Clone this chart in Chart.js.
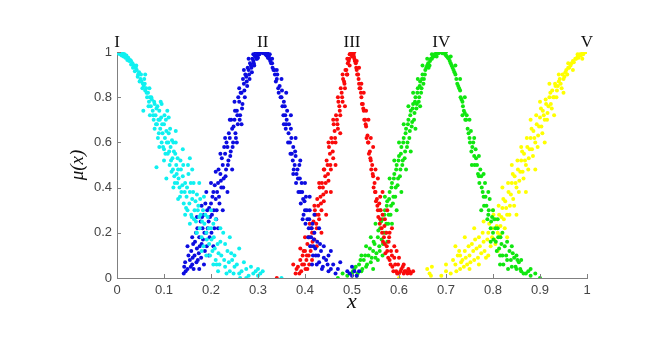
<!DOCTYPE html>
<html>
<head>
<meta charset="utf-8">
<script src="https://cdn.jsdelivr.net/npm/chart.js@4.4.1/dist/chart.umd.min.js"></script>
<style>
  html, body { margin: 0; padding: 0; background: #ffffff; }
  #wrap { width: 650px; height: 360px; }
</style>
</head>
<body>
<div id="wrap"><canvas id="myChart" width="650" height="360"></canvas></div>
<script>
// points, [x, mu]
var set1 = [[0,1],[0.004,1],[0.008,0.998],[0.012,0.995],[0.016,0.99],[0.02,0.985],[0.024,0.975],[0.028,0.965],[0.03,0.96],[0.033,0.95],[0.036,0.94],[0.04,0.93],[0.042,0.92],[0.045,0.9],[0.047,0.91],[0.05,0.88],[0.052,0.87],[0.055,0.86],[0.056,0.74],[0.057,0.85],[0.058,0.88],[0.06,0.83],[0.062,0.84],[0.064,0.8],[0.066,0.82],[0.068,0.78],[0.07,0.8],[0.072,0.76],[0.074,0.79],[0.076,0.74],[0.078,0.7],[0.08,0.77],[0.082,0.72],[0.084,0.75],[0.084,0.49],[0.085,0.68],[0.087,0.62],[0.088,0.7],[0.09,0.74],[0.092,0.66],[0.094,0.71],[0.095,0.6],[0.097,0.64],[0.1,0.68],[0.1,0.57],[0.102,0.62],[0.104,0.7],[0.106,0.6],[0.108,0.55],[0.11,0.64],[0.112,0.5],[0.114,0.58],[0.116,0.47],[0.118,0.53],[0.12,0.6],[0.122,0.45],[0.124,0.55],[0.126,0.5],[0.128,0.42],[0.13,0.48],[0.133,0.4],[0.135,0.52],[0.137,0.38],[0.14,0.45],[0.142,0.33],[0.145,0.42],[0.148,0.36],[0.15,0.3],[0.152,0.46],[0.155,0.38],[0.158,0.28],[0.16,0.35],[0.163,0.42],[0.165,0.3],[0.168,0.25],[0.17,0.37],[0.173,0.32],[0.176,0.22],[0.178,0.28],[0.18,0.18],[0.183,0.3],[0.186,0.24],[0.19,0.2],[0.193,0.27],[0.196,0.15],[0.2,0.22],[0.203,0.12],[0.206,0.18],[0.21,0.08],[0.214,0.15],[0.218,0.06],[0.222,0.1],[0.226,0.2],[0.23,0.05],[0.235,0.12],[0.24,0.03],[0.245,0.08],[0.25,0.05],[0.26,0.02],[0.262,0],[0.275,0.04],[0.29,0.02],[0.295,0.03],[0.3,0.01],[0.305,0.02],[0.35,0],
  [0.002,0.995],[0.006,0.99],[0.01,0.985],[0.014,0.98],[0.018,0.975],[0.022,0.965],[0.026,0.96],[0.03,0.945],[0.034,0.93],[0.038,0.915],[0.041,0.94],[0.044,0.89],[0.048,0.87],[0.051,0.9],[0.054,0.84],[0.059,0.86],[0.063,0.82],[0.067,0.76],[0.069,0.84],[0.073,0.8],[0.077,0.72],[0.079,0.78],[0.083,0.68],[0.086,0.76],[0.089,0.64],[0.091,0.7],[0.093,0.78],[0.096,0.68],[0.098,0.58],[0.101,0.72],[0.103,0.55],[0.105,0.65],[0.107,0.74],[0.109,0.6],[0.111,0.56],[0.113,0.66],[0.115,0.52],[0.117,0.61],[0.119,0.48],[0.121,0.56],[0.123,0.42],[0.125,0.6],[0.127,0.46],[0.129,0.53],[0.131,0.44],[0.134,0.36],[0.136,0.48],[0.139,0.41],[0.141,0.5],[0.144,0.38],[0.147,0.31],[0.149,0.4],[0.151,0.5],[0.154,0.33],[0.157,0.42],[0.159,0.27],[0.162,0.38],[0.164,0.26],[0.167,0.34],[0.169,0.2],[0.172,0.3],[0.175,0.27],[0.177,0.35],[0.181,0.25],[0.184,0.14],[0.188,0.28],[0.191,0.17],[0.195,0.22],[0.198,0.1],[0.201,0.17],[0.205,0.24],[0.208,0.13],[0.212,0.06],[0.216,0.11],[0.22,0.16],[0.228,0.08],[0.233,0.02],[0.238,0.07],[0.243,0.11],[0.248,0.02],[0.255,0.06],[0.265,0.03],[0.28,0.01],
  [0.06,0.9],[0.07,0.72],[0.08,0.66],[0.09,0.58],[0.095,0.77],[0.1,0.52],[0.105,0.44],[0.11,0.71],[0.12,0.4],[0.125,0.65],[0.13,0.35],[0.14,0.57],[0.145,0.28],[0.155,0.53],[0.155,0.24],[0.16,0.48],[0.17,0.2],[0.175,0.42],[0.18,0.12],[0.185,0.36],[0.19,0.1],[0.2,0.3],[0.205,0.06],[0.21,0.26],[0.215,0.03],[0.22,0.22],[0.23,0.15],[0.24,0.18],[0.25,0.1],[0.26,0.13],[0.27,0.07],[0.285,0.05],[0.3,0.04],[0.31,0.03],[0.275,0]];

var set2 = [[0.142,0.02],[0.143,0.05],[0.145,0.07],[0.15,0.04],[0.155,0.08],[0.158,0.12],[0.16,0.06],[0.162,0.15],[0.165,0.1],[0.168,0.2],[0.17,0.13],[0.172,0.08],[0.175,0.18],[0.178,0.25],[0.18,0.15],[0.182,0.22],[0.185,0.28],[0.187,0.12],[0.19,0.2],[0.192,0.3],[0.195,0.25],[0.197,0.18],[0.2,0.33],[0.202,0.28],[0.205,0.38],[0.207,0.22],[0.21,0.35],[0.212,0.3],[0.215,0.42],[0.217,0.36],[0.22,0.46],[0.222,0.4],[0.225,0.5],[0.227,0.44],[0.23,0.55],[0.232,0.48],[0.235,0.58],[0.237,0.52],[0.24,0.62],[0.242,0.56],[0.245,0.66],[0.247,0.6],[0.25,0.7],[0.252,0.64],[0.255,0.74],[0.257,0.68],[0.26,0.78],[0.262,0.72],[0.265,0.82],[0.267,0.77],[0.27,0.86],[0.272,0.8],[0.275,0.89],[0.277,0.85],[0.28,0.92],[0.282,0.88],[0.285,0.94],[0.287,0.91],[0.29,0.96],[0.292,0.94],[0.295,0.98],[0.298,0.97],[0.3,0.99],[0.303,0.99],[0.306,1],[0.31,1],[0.313,1],[0.316,0.99],[0.32,0.99],[0.323,0.98],[0.326,0.96],[0.33,0.95],[0.333,0.92],[0.336,0.9],[0.34,0.88],[0.343,0.84],[0.346,0.85],[0.35,0.8],[0.352,0.76],[0.355,0.78],[0.358,0.72],[0.36,0.68],[0.362,0.74],[0.365,0.64],[0.368,0.6],[0.37,0.66],[0.372,0.55],[0.375,0.58],[0.378,0.5],[0.38,0.54],[0.382,0.46],[0.385,0.44],[0.388,0.5],[0.39,0.38],[0.393,0.42],[0.396,0.35],[0.4,0.3],[0.402,0.36],[0.405,0.26],[0.408,0.22],[0.41,0.3],[0.413,0.18],[0.416,0.24],[0.418,0.14],[0.42,0.2],[0.423,0.1],[0.426,0.16],[0.43,0.07],[0.434,0.12],[0.438,0.05],[0.445,0.08],[0.45,0.03],[0.46,0.06],[0.465,0.02],[0.495,0.02],[0.5,0.05],[0.505,0.03],[0.51,0.01],
  [0.146,0.03],[0.152,0.1],[0.157,0.05],[0.161,0.09],[0.163,0.04],[0.166,0.16],[0.169,0.07],[0.171,0.22],[0.174,0.11],[0.176,0.14],[0.179,0.09],[0.181,0.27],[0.183,0.17],[0.186,0.2],[0.188,0.33],[0.191,0.14],[0.193,0.22],[0.196,0.31],[0.198,0.27],[0.201,0.2],[0.203,0.36],[0.206,0.3],[0.208,0.41],[0.211,0.26],[0.213,0.38],[0.216,0.48],[0.218,0.33],[0.221,0.43],[0.223,0.53],[0.226,0.4],[0.228,0.58],[0.231,0.45],[0.233,0.6],[0.236,0.5],[0.238,0.64],[0.241,0.54],[0.243,0.7],[0.246,0.58],[0.248,0.67],[0.251,0.74],[0.253,0.62],[0.256,0.72],[0.258,0.8],[0.261,0.7],[0.263,0.82],[0.266,0.75],[0.268,0.88],[0.271,0.83],[0.273,0.9],[0.276,0.87],[0.278,0.93],[0.281,0.9],[0.283,0.95],[0.286,0.93],[0.288,0.97],[0.291,0.95],[0.293,0.985],[0.296,0.97],[0.299,0.99],[0.301,1],[0.304,0.995],[0.308,1],[0.311,0.995],[0.315,1],[0.318,0.985],[0.321,0.975],[0.324,0.97],[0.328,0.95],[0.331,0.93],[0.335,0.92],[0.338,0.87],[0.341,0.9],[0.344,0.82],[0.348,0.8],[0.351,0.83],[0.354,0.72],[0.357,0.76],[0.359,0.66],[0.361,0.7],[0.364,0.6],[0.366,0.68],[0.369,0.55],[0.371,0.62],[0.374,0.52],[0.376,0.48],[0.379,0.56],[0.381,0.42],[0.384,0.48],[0.386,0.38],[0.389,0.44],[0.391,0.33],[0.394,0.38],[0.397,0.28],[0.399,0.34],[0.401,0.24],[0.404,0.3],[0.407,0.18],[0.409,0.26],[0.411,0.14],[0.414,0.22],[0.417,0.1],[0.419,0.17],[0.422,0.13],[0.425,0.06],[0.428,0.1],[0.432,0.15],[0.436,0.04],[0.44,0.09],[0.448,0.06],[0.455,0.04],[0.5,0.01],[0.49,0.03],
  [0.15,0.14],[0.16,0.18],[0.17,0.27],[0.175,0.04],[0.18,0.32],[0.185,0.06],[0.19,0.38],[0.195,0.1],[0.2,0.42],[0.205,0.14],[0.21,0.47],[0.215,0.22],[0.22,0.55],[0.225,0.3],[0.23,0.62],[0.235,0.38],[0.24,0.7],[0.245,0.48],[0.25,0.78],[0.255,0.6],[0.26,0.84],[0.265,0.68],[0.27,0.92],[0.28,0.97],[0.29,0.99],[0.295,1],[0.3,0.975],[0.32,1],[0.325,0.99],[0.33,0.97],[0.34,0.92],[0.35,0.88],[0.355,0.68],[0.36,0.82],[0.37,0.72],[0.375,0.46],[0.38,0.62],[0.39,0.52],[0.395,0.26],[0.4,0.42],[0.41,0.36],[0.415,0.06],[0.42,0.28],[0.43,0.22],[0.44,0.14],[0.45,0.1],[0.455,0.12],[0.47,0.04],[0.475,0.07],[0.515,0.03]];

var set3 = [[0.34,0],[0.38,0.02],[0.385,0.05],[0.39,0.08],[0.392,0.03],[0.395,0.1],[0.398,0.06],[0.4,0.12],[0.403,0.08],[0.405,0.15],[0.408,0.1],[0.41,0.18],[0.413,0.14],[0.415,0.2],[0.418,0.25],[0.42,0.17],[0.423,0.28],[0.425,0.22],[0.428,0.32],[0.43,0.26],[0.433,0.36],[0.435,0.3],[0.438,0.4],[0.44,0.34],[0.443,0.45],[0.445,0.38],[0.448,0.5],[0.45,0.43],[0.453,0.55],[0.455,0.48],[0.458,0.6],[0.46,0.53],[0.463,0.65],[0.465,0.6],[0.468,0.7],[0.47,0.66],[0.473,0.76],[0.475,0.72],[0.478,0.82],[0.48,0.78],[0.483,0.87],[0.485,0.84],[0.488,0.92],[0.49,0.9],[0.493,0.96],[0.495,0.94],[0.498,0.99],[0.5,1],[0.503,0.99],[0.505,0.97],[0.508,0.95],[0.51,0.92],[0.513,0.9],[0.515,0.86],[0.518,0.84],[0.52,0.8],[0.523,0.77],[0.525,0.74],[0.528,0.7],[0.53,0.67],[0.533,0.63],[0.535,0.6],[0.538,0.56],[0.54,0.52],[0.543,0.5],[0.545,0.45],[0.548,0.42],[0.55,0.38],[0.553,0.35],[0.555,0.3],[0.558,0.33],[0.56,0.26],[0.563,0.22],[0.565,0.28],[0.568,0.18],[0.57,0.15],[0.573,0.2],[0.575,0.12],[0.578,0.16],[0.58,0.08],[0.583,0.12],[0.586,0.05],[0.59,0.09],[0.594,0.03],[0.598,0.06],[0.6,0.02],[0.605,0.04],[0.61,0.02],[0.615,0.03],[0.62,0.04],[0.625,0.02],
  [0.382,0.04],[0.388,0.02],[0.394,0.06],[0.397,0.12],[0.401,0.04],[0.404,0.1],[0.407,0.18],[0.409,0.06],[0.412,0.12],[0.414,0.22],[0.416,0.16],[0.419,0.2],[0.421,0.3],[0.424,0.24],[0.426,0.35],[0.429,0.28],[0.431,0.4],[0.434,0.33],[0.436,0.42],[0.439,0.37],[0.441,0.48],[0.444,0.42],[0.446,0.52],[0.449,0.46],[0.451,0.58],[0.454,0.5],[0.456,0.62],[0.459,0.56],[0.461,0.68],[0.464,0.62],[0.466,0.72],[0.469,0.68],[0.471,0.78],[0.474,0.74],[0.476,0.84],[0.479,0.8],[0.481,0.88],[0.484,0.86],[0.486,0.92],[0.489,0.9],[0.491,0.95],[0.494,0.97],[0.496,0.99],[0.499,1],[0.501,1],[0.504,0.98],[0.506,0.96],[0.509,0.93],[0.511,0.9],[0.514,0.88],[0.516,0.84],[0.519,0.82],[0.521,0.77],[0.524,0.75],[0.526,0.7],[0.529,0.68],[0.531,0.62],[0.534,0.6],[0.536,0.55],[0.539,0.53],[0.541,0.48],[0.544,0.46],[0.546,0.4],[0.549,0.38],[0.551,0.34],[0.554,0.32],[0.556,0.27],[0.559,0.24],[0.561,0.3],[0.564,0.2],[0.566,0.16],[0.569,0.23],[0.571,0.11],[0.574,0.14],[0.577,0.09],[0.579,0.18],[0.582,0.06],[0.585,0.1],[0.588,0.03],[0.592,0.06],[0.596,0.02],[0.603,0.03],[0.608,0.05],[0.612,0.03],[0.618,0.02],[0.622,0.03],
  [0.375,0.06],[0.39,0.13],[0.4,0.18],[0.405,0.04],[0.41,0.24],[0.415,0.08],[0.42,0.32],[0.425,0.14],[0.43,0.42],[0.435,0.2],[0.44,0.48],[0.445,0.28],[0.45,0.6],[0.455,0.38],[0.46,0.7],[0.465,0.5],[0.47,0.8],[0.475,0.64],[0.48,0.9],[0.485,0.76],[0.49,0.97],[0.495,0.99],[0.5,0.98],[0.505,1],[0.51,0.96],[0.515,0.93],[0.52,0.86],[0.525,0.82],[0.53,0.74],[0.535,0.7],[0.54,0.62],[0.545,0.58],[0.55,0.48],[0.555,0.44],[0.56,0.36],[0.565,0.38],[0.57,0.26],[0.575,0.3],[0.58,0.2],[0.585,0.22],[0.59,0.14],[0.595,0.12],[0.6,0.09],[0.61,0.06],[0.63,0.03]];

var set4 = [[0.47,0],[0.5,0.02],[0.505,0.04],[0.51,0.01],[0.515,0.06],[0.52,0.03],[0.525,0.08],[0.53,0.05],[0.535,0.1],[0.54,0.07],[0.545,0.12],[0.548,0.15],[0.55,0.09],[0.555,0.18],[0.558,0.14],[0.56,0.22],[0.563,0.17],[0.565,0.26],[0.568,0.2],[0.57,0.3],[0.573,0.24],[0.575,0.34],[0.578,0.28],[0.58,0.38],[0.583,0.32],[0.585,0.42],[0.588,0.36],[0.59,0.46],[0.593,0.4],[0.595,0.5],[0.598,0.44],[0.6,0.54],[0.603,0.48],[0.605,0.58],[0.608,0.52],[0.61,0.62],[0.613,0.56],[0.615,0.66],[0.618,0.6],[0.62,0.7],[0.623,0.65],[0.625,0.74],[0.628,0.69],[0.63,0.77],[0.633,0.73],[0.635,0.8],[0.638,0.77],[0.64,0.84],[0.643,0.8],[0.645,0.87],[0.648,0.84],[0.65,0.9],[0.653,0.88],[0.656,0.92],[0.66,0.94],[0.663,0.93],[0.666,0.96],[0.67,0.97],[0.674,0.98],[0.678,0.99],[0.682,1],[0.686,1],[0.69,1],[0.694,1],[0.698,0.99],[0.702,0.98],[0.706,0.97],[0.71,0.95],[0.714,0.93],[0.718,0.91],[0.722,0.88],[0.726,0.85],[0.73,0.83],[0.733,0.79],[0.736,0.76],[0.74,0.73],[0.743,0.7],[0.746,0.66],[0.75,0.62],[0.753,0.65],[0.756,0.58],[0.76,0.54],[0.763,0.57],[0.766,0.5],[0.77,0.45],[0.773,0.48],[0.776,0.4],[0.78,0.36],[0.783,0.42],[0.786,0.32],[0.79,0.28],[0.793,0.35],[0.796,0.25],[0.8,0.2],[0.803,0.26],[0.806,0.16],[0.81,0.22],[0.813,0.13],[0.816,0.18],[0.82,0.1],[0.825,0.14],[0.83,0.08],[0.835,0.12],[0.84,0.05],[0.845,0.09],[0.85,0.04],[0.855,0.07],[0.86,0.03],[0.87,0.02],[0.88,0.01],[0.9,0],
  [0.49,0.01],[0.502,0.03],[0.508,0.05],[0.512,0.02],[0.518,0.08],[0.522,0.04],[0.528,0.1],[0.532,0.06],[0.538,0.13],[0.542,0.09],[0.546,0.16],[0.552,0.11],[0.556,0.21],[0.559,0.12],[0.562,0.25],[0.566,0.15],[0.569,0.28],[0.572,0.2],[0.574,0.32],[0.577,0.24],[0.579,0.35],[0.582,0.28],[0.584,0.4],[0.587,0.33],[0.589,0.44],[0.592,0.36],[0.594,0.48],[0.597,0.41],[0.599,0.52],[0.602,0.45],[0.604,0.55],[0.607,0.5],[0.609,0.6],[0.612,0.53],[0.614,0.64],[0.617,0.58],[0.619,0.68],[0.622,0.62],[0.624,0.72],[0.627,0.67],[0.629,0.75],[0.632,0.7],[0.634,0.78],[0.637,0.75],[0.639,0.82],[0.642,0.78],[0.644,0.85],[0.647,0.82],[0.649,0.88],[0.652,0.86],[0.655,0.9],[0.658,0.93],[0.662,0.95],[0.665,0.94],[0.668,0.97],[0.672,0.98],[0.676,0.99],[0.68,1],[0.684,0.995],[0.688,1],[0.692,0.995],[0.696,1],[0.7,0.985],[0.704,0.975],[0.708,0.96],[0.712,0.94],[0.716,0.92],[0.72,0.9],[0.724,0.86],[0.728,0.84],[0.731,0.8],[0.735,0.78],[0.738,0.74],[0.741,0.7],[0.744,0.72],[0.748,0.64],[0.751,0.6],[0.754,0.56],[0.758,0.6],[0.761,0.5],[0.764,0.53],[0.768,0.46],[0.771,0.42],[0.775,0.45],[0.778,0.38],[0.781,0.32],[0.784,0.36],[0.788,0.26],[0.791,0.3],[0.795,0.22],[0.798,0.27],[0.801,0.17],[0.805,0.22],[0.808,0.12],[0.811,0.18],[0.815,0.1],[0.818,0.15],[0.822,0.06],[0.828,0.1],[0.832,0.04],[0.838,0.08],[0.842,0.11],[0.848,0.05],[0.852,0.08],[0.858,0.04],[0.865,0.02],[0.875,0.03],
  [0.48,0.02],[0.52,0.1],[0.53,0.14],[0.54,0.18],[0.545,0.04],[0.55,0.24],[0.555,0.08],[0.56,0.3],[0.565,0.1],[0.57,0.36],[0.575,0.16],[0.58,0.44],[0.585,0.24],[0.59,0.52],[0.595,0.3],[0.6,0.6],[0.605,0.38],[0.61,0.68],[0.615,0.48],[0.62,0.76],[0.625,0.56],[0.63,0.82],[0.635,0.66],[0.64,0.88],[0.645,0.76],[0.65,0.94],[0.66,0.97],[0.67,0.99],[0.68,0.98],[0.7,1],[0.71,0.98],[0.72,0.94],[0.73,0.88],[0.735,0.72],[0.74,0.8],[0.75,0.7],[0.755,0.5],[0.76,0.62],[0.77,0.54],[0.775,0.3],[0.78,0.46],[0.79,0.38],[0.795,0.16],[0.8,0.3],[0.81,0.26],[0.815,0.06],[0.82,0.2],[0.83,0.16],[0.84,0.14],[0.85,0.1],[0.86,0.08],[0.88,0.04],[0.89,0.02]];

var set5 = [[0.6,0],[0.665,0.02],[0.67,0.05],[0.69,0.01],[0.72,0.06],[0.725,0.1],[0.73,0.04],[0.735,0.08],[0.74,0.12],[0.745,0.06],[0.75,0.1],[0.755,0.15],[0.76,0.08],[0.765,0.13],[0.77,0.18],[0.775,0.11],[0.78,0.16],[0.785,0.09],[0.79,0.2],[0.795,0.14],[0.8,0.22],[0.803,0.17],[0.806,0.26],[0.81,0.2],[0.813,0.28],[0.816,0.23],[0.82,0.31],[0.823,0.26],[0.826,0.34],[0.83,0.28],[0.833,0.38],[0.836,0.32],[0.84,0.42],[0.843,0.35],[0.846,0.45],[0.85,0.4],[0.853,0.48],[0.856,0.43],[0.86,0.52],[0.863,0.47],[0.866,0.55],[0.87,0.5],[0.873,0.58],[0.876,0.53],[0.88,0.62],[0.883,0.57],[0.886,0.65],[0.89,0.6],[0.893,0.68],[0.896,0.63],[0.9,0.71],[0.903,0.67],[0.906,0.74],[0.91,0.7],[0.913,0.77],[0.916,0.73],[0.92,0.8],[0.923,0.77],[0.926,0.83],[0.93,0.8],[0.933,0.85],[0.936,0.83],[0.94,0.87],[0.944,0.86],[0.948,0.9],[0.952,0.89],[0.956,0.92],[0.96,0.93],[0.965,0.94],[0.97,0.96],[0.975,0.97],[0.98,0.98],[0.985,0.99],[0.99,0.995],[0.995,1],[1,1],
  [0.668,0.01],[0.7,0.03],[0.715,0.08],[0.722,0.03],[0.728,0.12],[0.732,0.07],[0.738,0.05],[0.742,0.09],[0.748,0.14],[0.752,0.07],[0.758,0.12],[0.762,0.17],[0.768,0.09],[0.772,0.14],[0.778,0.2],[0.782,0.12],[0.788,0.17],[0.792,0.24],[0.798,0.18],[0.801,0.28],[0.805,0.15],[0.808,0.23],[0.812,0.32],[0.815,0.19],[0.818,0.27],[0.822,0.35],[0.825,0.22],[0.828,0.31],[0.832,0.42],[0.835,0.28],[0.838,0.37],[0.842,0.46],[0.845,0.32],[0.848,0.42],[0.852,0.52],[0.855,0.38],[0.858,0.47],[0.862,0.56],[0.865,0.44],[0.868,0.52],[0.872,0.62],[0.875,0.48],[0.878,0.57],[0.882,0.66],[0.885,0.54],[0.888,0.62],[0.892,0.72],[0.895,0.58],[0.898,0.67],[0.902,0.75],[0.905,0.64],[0.908,0.72],[0.912,0.79],[0.915,0.7],[0.918,0.76],[0.922,0.82],[0.925,0.75],[0.928,0.8],[0.932,0.86],[0.935,0.8],[0.938,0.85],[0.942,0.88],[0.946,0.84],[0.95,0.88],[0.954,0.91],[0.958,0.9],[0.962,0.93],[0.967,0.95],[0.972,0.955],[0.977,0.97],[0.982,0.975],[0.987,0.985],[0.992,0.99],[0.997,1],
  [0.66,0.04],[0.7,0.06],[0.71,0.02],[0.72,0.14],[0.73,0.1],[0.74,0.18],[0.75,0.04],[0.76,0.22],[0.77,0.06],[0.78,0.25],[0.79,0.1],[0.8,0.3],[0.81,0.12],[0.82,0.4],[0.83,0.18],[0.84,0.5],[0.85,0.28],[0.86,0.58],[0.87,0.38],[0.88,0.7],[0.89,0.48],[0.9,0.78],[0.91,0.6],[0.92,0.86],[0.93,0.72],[0.94,0.9],[0.95,0.82],[0.96,0.95],[0.97,0.92],[0.98,0.99],[0.99,0.97]];

// cluster names and where they sit on x
var peakLabels = ['I', 'II', 'III', 'IV', 'V'];
var peakX = [0, 0.31, 0.5, 0.69, 1];

var colors = ['#10f0f0', '#0c0ce0', '#fa0a0a', '#10e610', '#ffff00'];

function toXY(arr) {
  return arr.map(function(p) { return {x: p[0], y: p[1]}; });
}

var allSets = [set1, set2, set3, set4, set5];
var datasets = allSets.map(function(s, i) {
  return {
    label: peakLabels[i],
    data: toXY(s),
    backgroundColor: colors[i],
    borderWidth: 0,
    pointRadius: 2,
    pointHoverRadius: 2
  };
});

// inward tick marks and the roman numerals above each peak
var extras = {
  id: 'extras',
  afterDraw: function(chart) {
    var ctx = chart.ctx;
    var xs = chart.scales.x;
    var ys = chart.scales.y;
    var area = chart.chartArea;
    ctx.save();
    ctx.strokeStyle = '#808080';
    ctx.lineWidth = 1;
    ctx.beginPath();
    xs.ticks.forEach(function(t) {
      var px = Math.round(xs.getPixelForValue(t.value)) + 0.5;
      ctx.moveTo(px, area.bottom);
      ctx.lineTo(px, area.bottom - 4);
    });
    ys.ticks.forEach(function(t) {
      var py = Math.round(ys.getPixelForValue(t.value)) + 0.5;
      ctx.moveTo(area.left, py);
      ctx.lineTo(area.left + 4, py);
    });
    ctx.stroke();

    ctx.fillStyle = '#111111';
    ctx.font = '17px "Liberation Serif", "DejaVu Serif", serif';
    ctx.textAlign = 'center';
    ctx.textBaseline = 'middle';
    peakLabels.forEach(function(lab, i) {
      ctx.fillText(lab, xs.getPixelForValue(peakX[i]), area.top - 9);
    });
    ctx.restore();
  }
};

function fmt(v) {
  return String(Number(v.toFixed(1)));
}

var ctx = document.getElementById('myChart');
var myChart = new Chart(ctx, {
  type: 'scatter',
  data: { datasets: datasets },
  options: {
    responsive: false,
    animation: false,
    layout: { padding: { left: 67, right: 63, top: 52, bottom: 45 } },
    plugins: {
      legend: { display: false },
      tooltip: { enabled: false }
    },
    scales: {
      x: {
        type: 'linear',
        min: 0,
        max: 1,
        grid: { display: false, drawTicks: false },
        border: { display: true, color: '#808080', width: 1 },
        ticks: {
          stepSize: 0.1,
          padding: 5,
          color: '#444444',
          font: { family: '"Liberation Sans", Arial, sans-serif', size: 13 },
          callback: fmt
        },
        title: {
          display: true,
          text: 'x',
          color: '#111111',
          padding: 0,
          font: { family: '"Liberation Serif", "DejaVu Serif", serif', size: 22, style: 'italic' }
        },
        afterFit: function(scale) { scale.height = 37; }
      },
      y: {
        type: 'linear',
        min: 0,
        max: 1,
        grid: { display: false, drawTicks: false },
        border: { display: true, color: '#808080', width: 1 },
        ticks: {
          stepSize: 0.2,
          padding: 5,
          color: '#444444',
          font: { family: '"Liberation Sans", Arial, sans-serif', size: 13 },
          callback: fmt
        },
        title: {
          display: true,
          text: 'μ(x)',
          color: '#111111',
          padding: 0,
          font: { family: '"Liberation Serif", "DejaVu Serif", serif', size: 19, style: 'italic' }
        },
        afterFit: function(scale) { scale.width = 50; }
      }
    }
  },
  plugins: [extras]
});
</script>
</body>
</html>
